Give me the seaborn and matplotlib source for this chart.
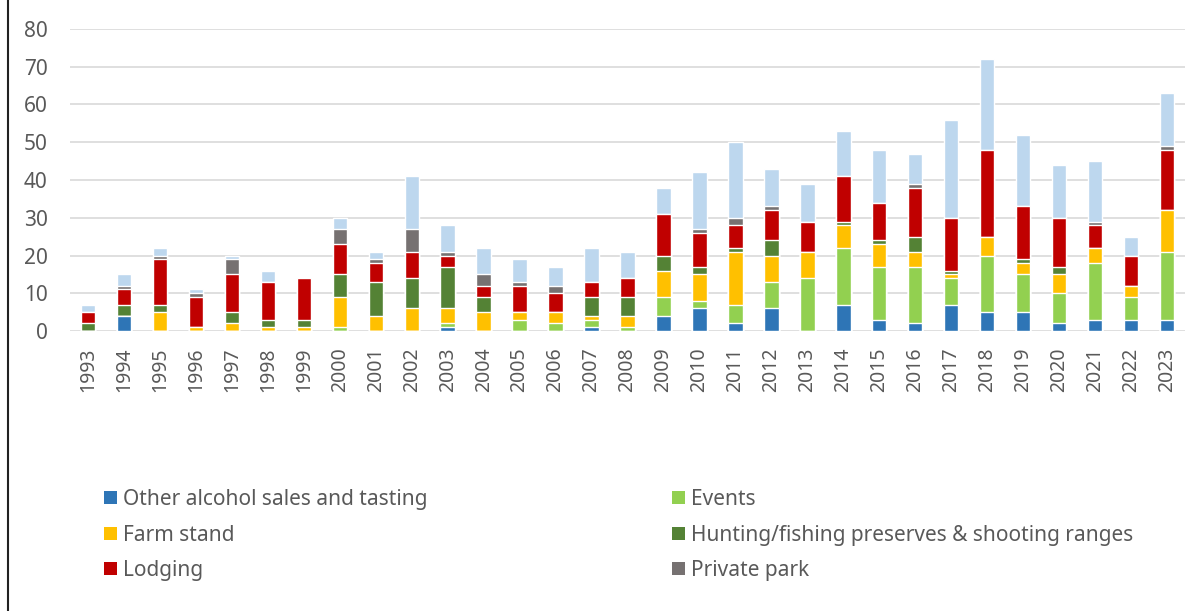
import matplotlib
matplotlib.use('Agg')
import matplotlib.pyplot as plt
from matplotlib.lines import Line2D
from matplotlib.patches import Patch
import pandas as pd
import seaborn as sns

# Dữ liệu
years = [str(y) for y in range(1993, 2024)]
other_alcohol = [0, 4, 0, 0, 0, 0, 0, 0, 0, 0, 1, 0, 0, 0, 1, 0, 4, 6, 2, 6, 0,
                 7, 3, 2, 7, 5, 5, 2, 3, 3, 3]
events = [0, 0, 0, 0, 0, 0, 0, 1, 0, 0, 1, 0, 3, 2, 2, 1, 5, 2, 5, 7, 14,
          15, 14, 15, 7, 15, 10, 8, 15, 6, 18]
farm_stand = [0, 0, 5, 1, 2, 1, 1, 8, 4, 6, 4, 5, 2, 3, 1, 3, 7, 7, 14, 7, 7,
              6, 6, 4, 1, 5, 3, 5, 4, 3, 11]
hunting = [2, 3, 2, 0, 3, 2, 2, 6, 9, 8, 11, 4, 0, 0, 5, 5, 4, 2, 1, 4, 0,
           1, 1, 4, 1, 0, 1, 2, 0, 0, 0]
lodging = [3, 4, 12, 8, 10, 10, 11, 8, 5, 7, 3, 3, 7, 5, 4, 5, 11, 9, 6, 8, 8,
           12, 10, 13, 14, 23, 14, 13, 6, 8, 16]
private_park = [0, 1, 1, 1, 4, 0, 0, 4, 1, 6, 1, 3, 1, 2, 0, 0, 0, 1, 2, 1, 0,
                0, 0, 1, 0, 0, 0, 0, 1, 0, 1]
unlabeled = [2, 3, 2, 1, 1, 3, 0, 3, 2, 14, 7, 7, 6, 5, 9, 7, 7, 15, 20, 10, 10,
             12, 14, 8, 26, 24, 19, 14, 16, 5, 14]

series = [
    ('Other alcohol sales and tasting', other_alcohol, '#2E75B6'),
    ('Events', events, '#92D050'),
    ('Farm stand', farm_stand, '#FFC000'),
    ('Hunting/fishing preserves & shooting ranges', hunting, '#548235'),
    ('Lodging', lodging, '#C00000'),
    ('Private park', private_park, '#767171'),
    ('', unlabeled, '#BDD7EE'),
]

df = pd.DataFrame({'year': years})
running = pd.Series([0] * len(years))
for name, vals, color in series:
    running = running + pd.Series(vals)
    df['cum_' + str(len(df.columns))] = running

sns.set_theme(style='white')
plt.rcParams['font.family'] = ['Noto Sans', 'DejaVu Sans']
text_color = '#595959'

fig = plt.figure(figsize=(12.04, 6.11), dpi=100)
ax = fig.add_axes([70 / 1204, 1 - 331 / 611, 1115 / 1204, 302 / 611])

# vẽ chồng: cột tổng trước, các lớp dưới đè lên sau
cum_cols = [c for c in df.columns if c.startswith('cum_')]
for (name, vals, color), col in reversed(list(zip(series, cum_cols))):
    sns.barplot(data=df, x='year', y=col, color=color, width=0.4,
                saturation=1, errorbar=None, ax=ax, zorder=3)

ax.set_ylim(0, 80)
ax.set_xlim(-0.5, len(years) - 0.5)
ax.set_yticks(range(0, 81, 10))
ax.yaxis.grid(True, color='#D9D9D9', linewidth=1.2, zorder=0)
ax.set_axisbelow(True)
for s in ax.spines.values():
    s.set_visible(False)
ax.set_xlabel('')
ax.set_ylabel('')
ax.tick_params(axis='y', length=0, pad=16, labelsize=15, labelcolor=text_color)
ax.tick_params(axis='x', length=0, pad=12, labelsize=14, labelcolor=text_color,
               labelrotation=90)

# chú thích: hai cột
handles = {name: Patch(facecolor=color, edgecolor='none') for name, _, color in series if name}
left_names = ['Other alcohol sales and tasting', 'Farm stand', 'Lodging']
right_names = ['Events', 'Hunting/fishing preserves & shooting ranges', 'Private park']
for names, x0 in [(left_names, 104 / 1204), (right_names, 672 / 1204)]:
    leg = fig.legend([handles[n] for n in names], names, loc='upper left',
                     bbox_to_anchor=(x0, 1 - 489 / 611), frameon=False,
                     fontsize=15, handlelength=0.6, handleheight=0.6,
                     handletextpad=0.3, labelspacing=0.7, borderpad=0,
                     borderaxespad=0)
    for t in leg.get_texts():
        t.set_color(text_color)

fig.add_artist(Line2D([8 / 1204, 8 / 1204], [0, 1], color='#222222', linewidth=1.5))

fig.savefig('out.png', dpi=100)
